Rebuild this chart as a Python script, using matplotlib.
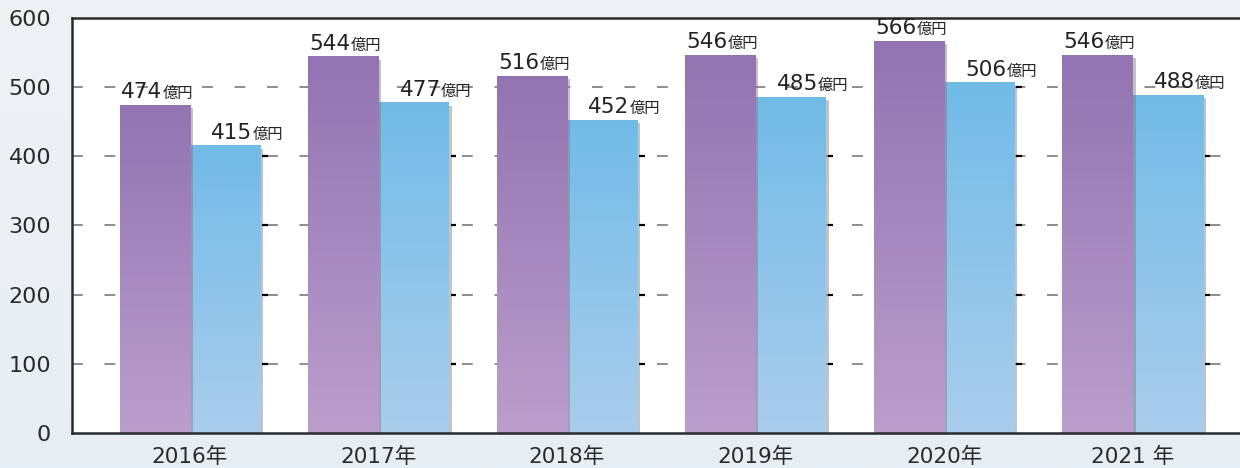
import numpy as np
import matplotlib.pyplot as plt
import matplotlib.transforms as mtransforms
from matplotlib.colors import LinearSegmentedColormap

plt.rcParams['font.family'] = ['DejaVu Sans', 'Noto Sans CJK JP']

years = ['2016年', '2017年', '2018年', '2019年', '2020年', '2021 年']
series_a = [474, 544, 516, 546, 566, 546]
series_b = [415, 477, 452, 485, 506, 488]
unit = '億円'

purple = LinearSegmentedColormap.from_list('p', ['#bb9ecc', '#9274b2'])
blue = LinearSegmentedColormap.from_list('b', ['#aacdec', '#72bbe7'])

fig = plt.figure(figsize=(12.4, 4.68), dpi=100)

# soft sky background
bg = fig.add_axes([0, 0, 1, 1], zorder=-10)
yy = np.linspace(0, 1, 200).reshape(-1, 1)
sky = LinearSegmentedColormap.from_list('s', ['#e6eef5', '#eaf0f4', '#eef2f5'])
bg.imshow(yy, aspect='auto', cmap=sky, extent=[0, 1, 0, 1], origin='lower')
bg.axis('off')

ax = fig.add_axes([0.058, 0.075, 0.942, 0.887])
ax.set_facecolor('white')

w = 0.372
x = np.arange(len(years))
grad = np.linspace(0, 1, 100).reshape(-1, 1)
shadow = mtransforms.offset_copy(ax.transData, fig=fig, x=3, y=-3, units='dots')
tick_tr = mtransforms.offset_copy(ax.transData, fig=fig, x=2, y=0, units='dots')
grid_levels = range(100, 600, 100)

for i in x:
    # blue first so the purple bar's shadow falls onto it
    for j, vals, cmap, z in [(1, series_b, blue, 3), (0, series_a, purple, 4)]:
        x0 = i - w + j * w
        v = vals[i]
        ax.add_patch(plt.Rectangle((x0, 0), w, v, color='#7a7a7a', alpha=0.45,
                                   lw=0, transform=shadow, zorder=z - 0.5))
        ax.imshow(grad, aspect='auto', cmap=cmap, extent=[x0, x0 + w, 0, v],
                  origin='lower', zorder=z)
        # value label
        cx = x0 + w / 2 + (0.145 if j == 1 else 0.04)
        ax.annotate(f'{v}', (cx, v), xytext=(0, 7), textcoords='offset pixels',
                    ha='right', va='baseline', fontsize=15.5, color='#222222', zorder=5)
        ax.annotate(unit, (cx, v), xytext=(0, 7), textcoords='offset pixels',
                    ha='left', va='baseline', fontsize=11, color='#222222', zorder=5)
    # little black ticks on the right edge of the blue bar
    for yv in grid_levels:
        if yv < series_b[i]:
            ax.plot([i + w, i + w + 0.03], [yv, yv], color='black', lw=1.6,
                    transform=tick_tr, zorder=2.8, solid_capstyle='butt')

ax.set_xlim(-0.626, 5.57)
ax.set_ylim(0, 600)
ax.set_yticks(range(0, 601, 100))
ax.set_xticks(x)
ax.set_xticklabels(years)
for yv in grid_levels:
    ax.axhline(yv, color='#858585', lw=1.3, ls=(0, (6, 12)), zorder=1)

ax.tick_params(axis='y', length=0, labelsize=16, pad=15, colors='#2a2a2a')
ax.tick_params(axis='x', length=0, labelsize=15.5, pad=10, colors='#2a2a2a')
ax.spines['right'].set_visible(False)
for s in ['left', 'top', 'bottom']:
    ax.spines[s].set_color('#2a2a2a')
    ax.spines[s].set_linewidth(1.8)
ax.spines['bottom'].set_zorder(6)

fig.savefig('out.png', dpi=100)
